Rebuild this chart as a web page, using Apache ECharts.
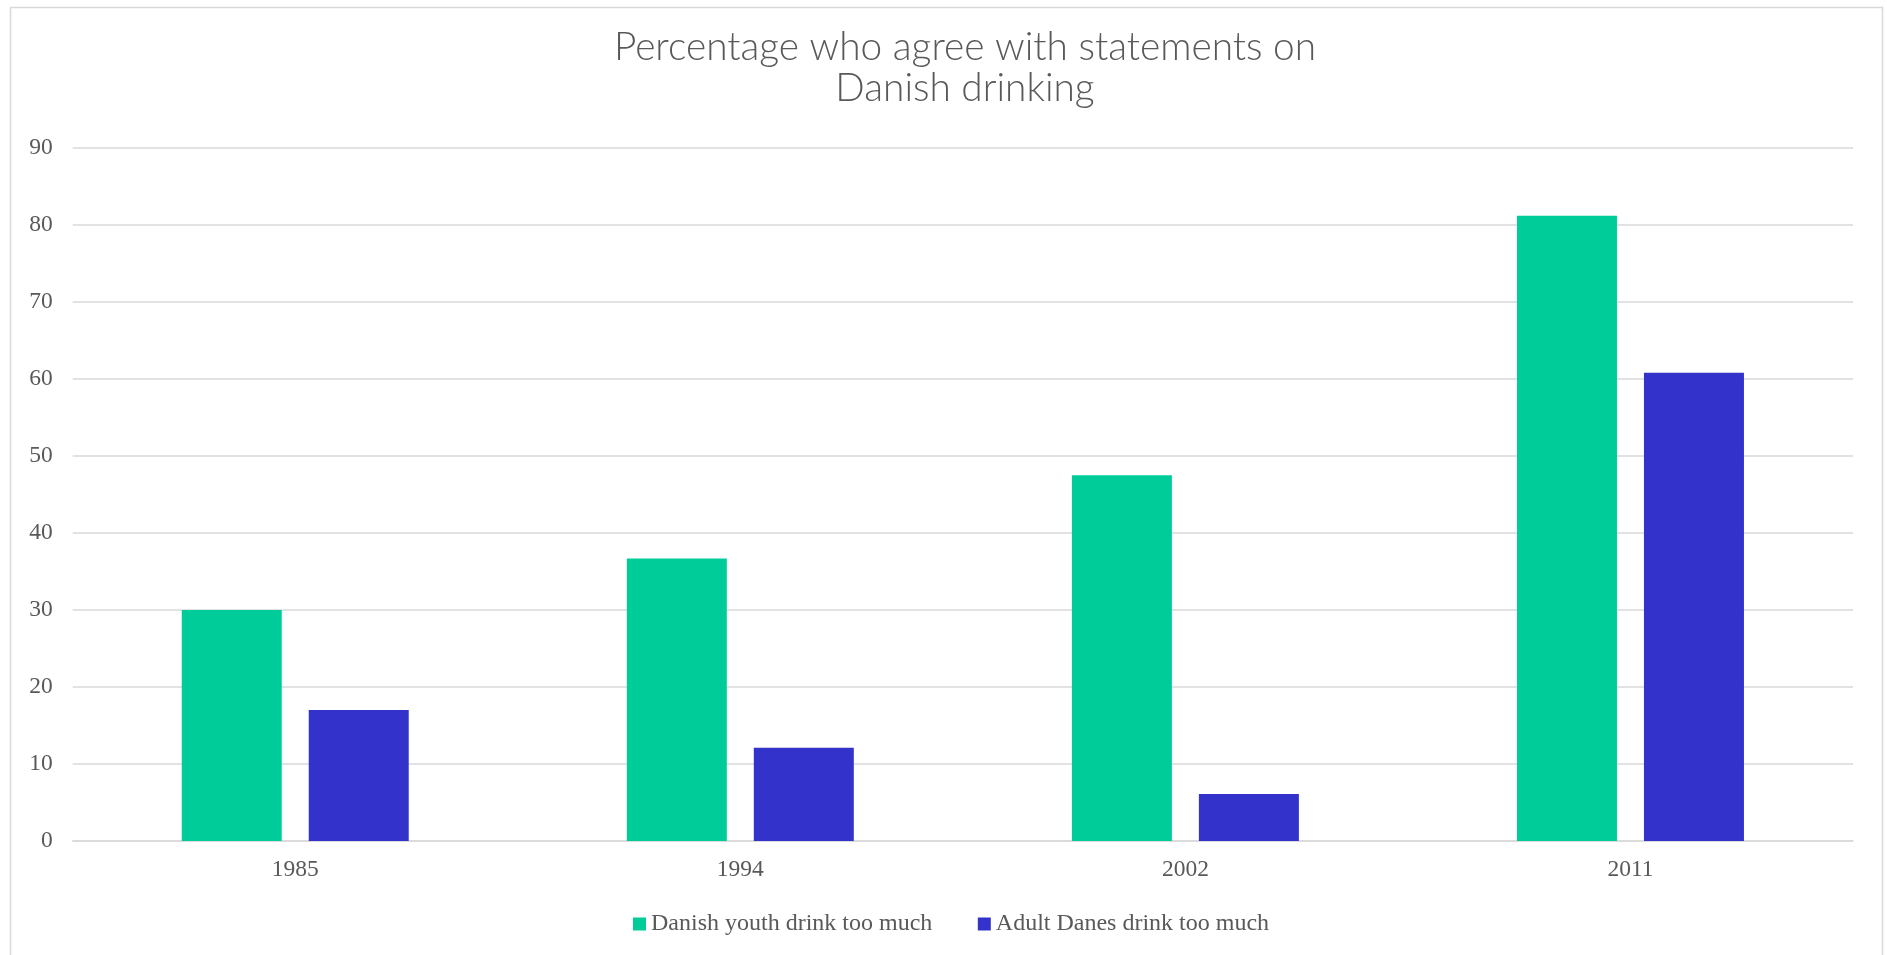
<!DOCTYPE html>
<html>
<head>
<meta charset="utf-8">
<title>Percentage who agree with statements on Danish drinking</title>
<script src="https://cdn.jsdelivr.net/npm/echarts@6/dist/echarts.min.js"></script>
<style>
  html, body { margin: 0; padding: 0; background: #ffffff; }
  #chart { width: 1887px; height: 955px; }
</style>
</head>
<body>
<div id="chart"></div>
<script>
// Survey years
const years = ['1985', '1994', '2002', '2011'];
// Share (%) agreeing that young Danes drink too much
const youthTooMuch = [30, 36.7, 47.5, 81.2];
// Share (%) agreeing that adult Danes drink too much
const adultsTooMuch = [17, 12.1, 6.1, 60.8];
// Value axis range
const yMin = 0, yMax = 90, yStep = 10;

const seriesNames = ['Danish youth drink too much', 'Adult Danes drink too much'];
const colors = ['#00cc99', '#3333cc'];

const labelFont = '"Liberation Serif", "Times New Roman", serif';
const textGrey = '#595959';
const lineGrey = '#d9d9d9';

const chart = echarts.init(document.getElementById('chart'), null, { renderer: 'canvas' });

chart.setOption({
  backgroundColor: '#ffffff',
  animation: false,
  color: colors,
  title: {
    text: 'Percentage who agree with statements on\nDanish drinking',
    left: 965,
    top: 27,
    padding: 0,
    textAlign: 'center',
    textStyle: {
      fontFamily: 'Lato, "Open Sans", sans-serif',
      fontWeight: 300,
      fontSize: 38.8,
      lineHeight: 41,
      color: textGrey
    }
  },
  graphic: [{
    type: 'rect',
    silent: true,
    z: -1,
    shape: { x: 10.5, y: 7.5, width: 1872, height: 980 },
    style: { fill: 'none', stroke: lineGrey, lineWidth: 1.5 }
  }],
  legend: {
    data: seriesNames,
    left: 633,
    top: 912,
    padding: 0,
    itemGap: 45.5,
    itemWidth: 13,
    itemHeight: 13,
    icon: 'rect',
    textStyle: {
      fontFamily: labelFont,
      fontSize: 24,
      color: textGrey,
      padding: [0, 0, 0, 0]
    }
  },
  grid: {
    left: 72.7,
    right: 34,
    top: 148,
    bottom: 114,
    containLabel: false
  },
  xAxis: {
    type: 'category',
    data: years,
    axisTick: { show: false },
    axisLine: { show: true, lineStyle: { color: lineGrey, width: 1.5 } },
    axisLabel: {
      margin: 17,
      fontFamily: labelFont,
      fontSize: 23.5,
      color: textGrey
    }
  },
  yAxis: {
    type: 'value',
    min: yMin,
    max: yMax,
    interval: yStep,
    axisLine: { show: false },
    axisTick: { show: false },
    splitLine: { lineStyle: { color: lineGrey, width: 1.5 } },
    axisLabel: {
      margin: 20,
      fontFamily: labelFont,
      fontSize: 23.5,
      color: textGrey
    }
  },
  series: [
    {
      name: seriesNames[0],
      type: 'bar',
      data: youthTooMuch,
      barGap: '27%',
      barCategoryGap: '49%',
      itemStyle: { color: colors[0] }
    },
    {
      name: seriesNames[1],
      type: 'bar',
      data: adultsTooMuch,
      barGap: '27%',
      barCategoryGap: '49%',
      itemStyle: { color: colors[1] }
    }
  ]
});
</script>
</body>
</html>
